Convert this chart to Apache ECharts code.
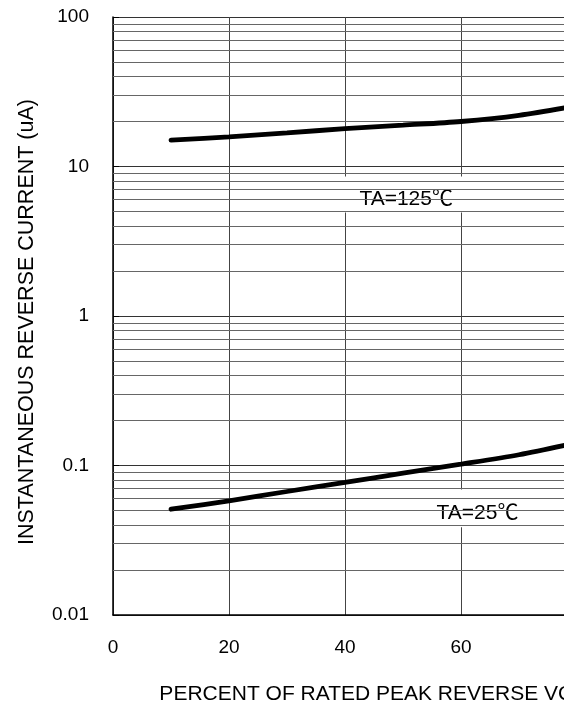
<!DOCTYPE html>
<html>
<head>
<meta charset="utf-8">
<script src="https://cdn.jsdelivr.net/npm/echarts@6/dist/echarts.min.js"></script>
<style>html,body{margin:0;padding:0;background:#fff;}#c{width:564px;height:705px;}</style>
</head>
<body>
<div id="c"></div>
<script>
// ---- data ----
var xPercent = [10, 20, 30, 40, 50, 60, 70, 80];
var current125 = [15.0, 15.8, 16.8, 17.9, 18.9, 20.0, 22.0, 25.5];
var current25 = [0.051, 0.058, 0.067, 0.077, 0.089, 0.102, 0.118, 0.142];
var xTicks = [0, 20, 40, 60, 80, 100];
var yTickLabels = ['0.01', '0.1', '1', '10', '100'];
var decades = [0.01, 0.1, 1, 10];
var minorSteps = [2, 3, 4, 5, 6, 7, 8, 9];
var label125 = 'TA=125\u2103';
var label25 = 'TA=25\u2103';
var box125 = [[34.0, 8.58], [67.1, 4.93]];
var box25 = [[47.2, 0.0692], [78.5, 0.0386]];

var FONT = 'Arial, "Liberation Sans", "Noto Sans CJK SC", sans-serif';

function pairs(xs, ys) { return xs.map(function (x, i) { return [x, ys[i]]; }); }
var minorLines = [];
decades.forEach(function (d) { minorSteps.forEach(function (m) { minorLines.push({ yAxis: +(d * m).toPrecision(3) }); }); });

var chart = echarts.init(document.getElementById('c'));
chart.setOption({
  backgroundColor: '#fff',
  animation: false,
  grid: { left: 113, top: 17, bottom: 90, width: 580, containLabel: false, outerBoundsMode: 'none' },
  xAxis: {
    type: 'value', min: xTicks[0], max: xTicks[xTicks.length - 1], interval: 20,
    name: 'PERCENT OF RATED PEAK REVERSE VOLTAGE (%)',
    nameLocation: 'middle', nameGap: 69,
    nameTextStyle: { fontFamily: FONT, fontSize: 21, color: '#000', padding: [0, 0, 0, 32] },
    axisLine: { lineStyle: { color: '#000', width: 1.5 } },
    axisTick: { show: false },
    axisLabel: { fontFamily: FONT, fontSize: 19, color: '#000', margin: 23 },
    splitLine: { show: true, lineStyle: { color: '#444', width: 1 } }
  },
  yAxis: {
    type: 'log', logBase: 10, min: 0.01, max: 100,
    name: 'INSTANTANEOUS REVERSE CURRENT (uA)',
    nameLocation: 'middle', nameGap: 75,
    nameTextStyle: { fontFamily: FONT, fontSize: 21.5, color: '#000', padding: [0, 12, 0, 0] },
    axisLine: { show: true, lineStyle: { color: '#000', width: 1.5 } },
    axisTick: { show: true, inside: true, length: 6, lineStyle: { color: '#000' } },
    axisLabel: {
      fontFamily: FONT, fontSize: 19, color: '#000', margin: 24,
      formatter: function (v) { return yTickLabels[Math.round(Math.log10(v)) + 2]; }
    },
    splitLine: { show: true, lineStyle: { color: '#333', width: 1 } }
  },
  series: [
    {
      type: 'line', data: [], silent: true, z: 1,
      markLine: {
        silent: true, symbol: ['none', 'none'], label: { show: false },
        lineStyle: { color: '#666', width: 1, type: 'solid' },
        data: minorLines
      }
    },
    {
      type: 'line', data: [], silent: true, z: 3,
      markArea: {
        silent: true,
        itemStyle: { color: '#fff', opacity: 1 },
        label: { show: true, position: 'inside', offset: [0, 5], fontFamily: FONT, fontSize: 21, color: '#000' },
        data: [
          [{ name: label125, coord: box125[0] }, { coord: box125[1] }],
          [{ name: label25, coord: box25[0] }, { coord: box25[1] }]
        ]
      }
    },
    {
      type: 'line', data: pairs(xPercent, current125), smooth: 0.3, symbol: 'none', z: 5,
      lineStyle: { color: '#000', width: 4.8, cap: 'round' }
    },
    {
      type: 'line', data: pairs(xPercent, current25), smooth: 0.3, symbol: 'none', z: 5,
      lineStyle: { color: '#000', width: 4.8, cap: 'round' }
    }
  ]
});
</script>
</body>
</html>
